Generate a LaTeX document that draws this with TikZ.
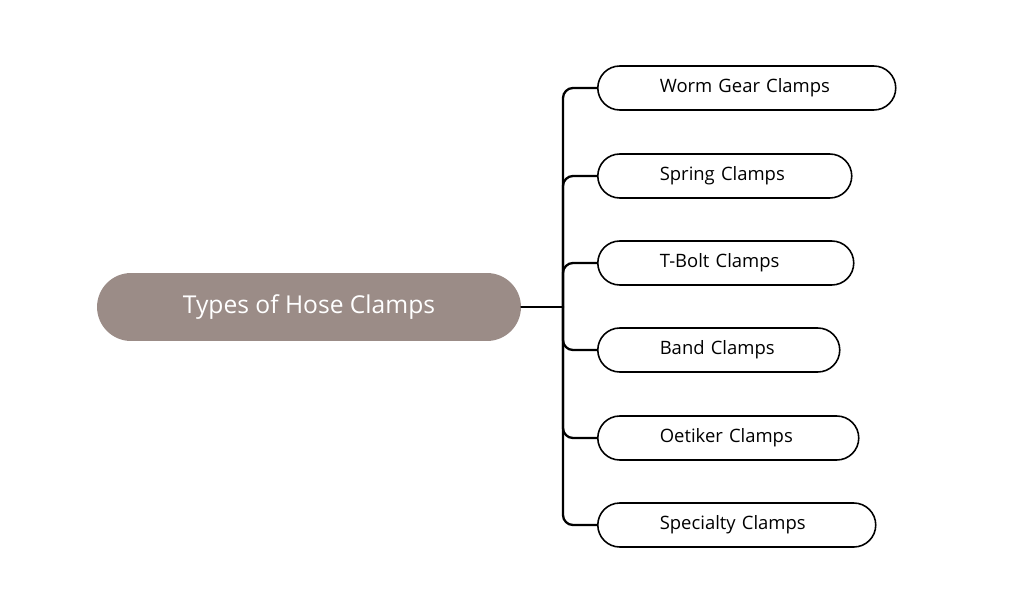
\documentclass[tikz,border=0pt]{standalone}
\usepackage{fontspec}
\setmainfont{Open Sans}
\definecolor{rootfill}{HTML}{9B8C87}
\begin{document}
\begin{tikzpicture}[x=0.02cm,y=-0.02cm,line cap=round,line join=round,
  clamp/.style={draw=black,line width=0.9pt,rounded corners=0.44cm,minimum height=0.88cm,
    anchor=west,inner xsep=1.24cm,inner ysep=0pt,align=left,font=\fontsize{10.5}{12}\selectfont},
  link/.style={line width=1.3pt,rounded corners=0.2cm}]
\useasboundingbox (0,0) rectangle (1030,605);
\node[fill=rootfill,text=white,rounded corners=0.68cm,minimum width=8.48cm,minimum height=1.36cm,
  font=\fontsize{14}{16}\selectfont] (root) at (309,307) {Types of Hose Clamps};
\coordinate (spine) at (563,307);
\node[clamp,text width=3.48cm] (worm) at (597,88) {Worm Gear Clamps};
\node[clamp,text width=2.6cm] (spring) at (597,176) {Spring Clamps};
\node[clamp,text width=2.64cm] (tbolt) at (597,263) {T-Bolt Clamps};
\node[clamp,text width=2.36cm] (band) at (597,350) {Band Clamps};
\node[clamp,text width=2.74cm] (oetiker) at (597,438) {Oetiker Clamps};
\node[clamp,text width=3.08cm] (special) at (597,525) {Specialty Clamps};
\draw[line width=1.3pt] (root.east) -- (spine);
\foreach \c in {worm,spring,tbolt,band,oetiker,special}
  \draw[link] (spine) |- (\c.west);
\end{tikzpicture}
\end{document}
